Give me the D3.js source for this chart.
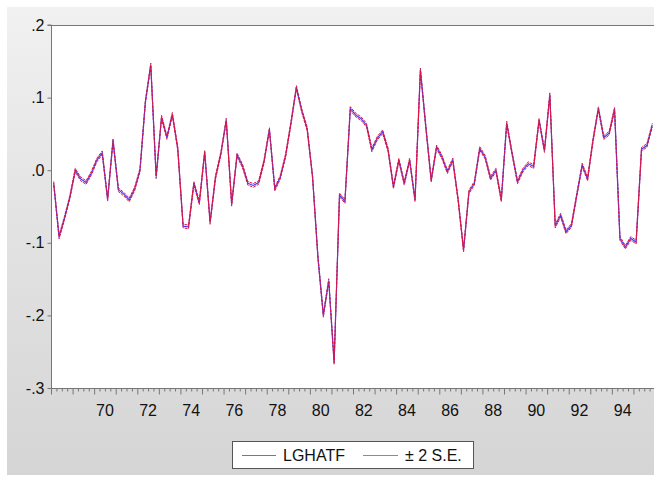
<!DOCTYPE html>
<html><head><meta charset="utf-8">
<script src="https://cdn.jsdelivr.net/npm/d3@7"></script>
<style>html,body{margin:0;padding:0;background:#fff;}svg{display:block;}</style>
</head><body>
<svg id="chart" width="654" height="477"></svg>
<script>
// ---- data ----
const startYear = 1968;           // first observation 1968Q1, quarterly
const endYear = 1996;
const lghatf = [
 -0.018,-0.092,-0.066,-0.037, 0.000,-0.012,-0.017,-0.004, 0.014, 0.024,
 -0.040, 0.041,-0.027,-0.033,-0.041,-0.026, 0.000, 0.094, 0.145,-0.009,
  0.073, 0.045, 0.077, 0.030,-0.077,-0.078,-0.018,-0.045, 0.025,-0.072,
 -0.010, 0.023, 0.069,-0.047, 0.021, 0.006,-0.018,-0.021,-0.017, 0.012,
  0.056,-0.026,-0.010, 0.020, 0.065, 0.114, 0.082, 0.057,-0.009,-0.120,
 -0.200,-0.152,-0.265,-0.034,-0.043, 0.085, 0.076, 0.071, 0.062, 0.028,
  0.044, 0.053, 0.028,-0.023, 0.014,-0.018, 0.014,-0.041, 0.138, 0.060,
 -0.014, 0.032, 0.018,-0.002, 0.014,-0.041,-0.110,-0.030,-0.018, 0.030,
  0.018,-0.011, 0.000,-0.041, 0.065, 0.023,-0.016, 0.000, 0.009, 0.005,
  0.069, 0.027, 0.104,-0.077,-0.062,-0.085,-0.076,-0.034, 0.007,-0.012,
  0.041, 0.085, 0.045, 0.051, 0.084,-0.094,-0.106,-0.094,-0.099, 0.029,
  0.034, 0.062
];
const twoSE = 0.0025;             // half-width of the ±2 S.E. band
const xTickYears = [1970,1972,1974,1976,1978,1980,1982,1984,1986,1988,1990,1992,1994];
const xTickLabels = ["70","72","74","76","78","80","82","84","86","88","90","92","94"];
const yTicks = [0.2,0.1,0.0,-0.1,-0.2,-0.3];
const yTickLabels = [".2",".1",".0","-.1","-.2","-.3"];
const legendLabels = ["LGHATF","\u00B1 2 S.E."];

// ---- layout ----
const svg = d3.select("#chart");
const W = 654, H = 477;
const L = 51, R = 655, T = 25, B = 388;
const font = "'Liberation Sans', Arial, sans-serif";

const defs = svg.append("defs");
const grad = defs.append("linearGradient").attr("id","bg").attr("x1",0).attr("y1",0).attr("x2",0).attr("y2",1);
grad.append("stop").attr("offset","0%").attr("stop-color","#f1f1f1");
grad.append("stop").attr("offset","45%").attr("stop-color","#e3e3e3");
grad.append("stop").attr("offset","100%").attr("stop-color","#d5d5d5");
svg.append("rect").attr("x",7).attr("y",7).attr("width",W-7).attr("height",468).attr("fill","url(#bg)");

svg.append("rect").attr("x",L).attr("y",T).attr("width",R-L).attr("height",B-T).attr("fill","#fff");

const x = d3.scaleLinear().domain([startYear,endYear]).range([L,R]);
const y = d3.scaleLinear().domain([-0.3,0.2]).range([B,T]);

// frame line on top
svg.append("line").attr("x1",L).attr("x2",W).attr("y1",T+0.5).attr("y2",T+0.5).attr("stroke","#777").attr("stroke-width",1.2);

// y axis
const yAxis = d3.axisLeft(y).tickValues(yTicks).tickFormat((d,i)=>yTickLabels[i]).tickSize(4).tickPadding(3);
const gy = svg.append("g").attr("transform",`translate(${L+0.5},0)`).call(yAxis);
gy.select(".domain").attr("stroke","#777").attr("d",`M-4,${T}H0V${B}`);
gy.selectAll(".tick line").attr("stroke","#777");
gy.selectAll("text").attr("font-family",font).attr("font-size",16).attr("fill","#111");

// x axis: quarterly minor ticks, yearly major ticks
const quarterTicks = d3.range(startYear*4, endYear*4+1).map(q=>q/4);
const gxMinor = svg.append("g").attr("transform",`translate(0,${B+0.5})`)
  .call(d3.axisBottom(x).tickValues(quarterTicks.filter(t=>t%1!==0)).tickSize(3).tickFormat(""));
gxMinor.selectAll(".tick line").attr("stroke","#777");
gxMinor.select(".domain").attr("stroke","#777").attr("d",`M${L},0H${W}`);
const gxMajor = svg.append("g").attr("transform",`translate(0,${B+0.5})`)
  .call(d3.axisBottom(x).tickValues(d3.range(startYear,endYear+1)).tickSize(6).tickFormat(""));
gxMajor.select(".domain").remove();
gxMajor.selectAll(".tick line").attr("stroke","#777");
svg.append("g").selectAll("text").data(xTickYears).join("text")
  .attr("x",d=>x(d+0.5)).attr("y",B+28).attr("text-anchor","middle")
  .attr("font-family",font).attr("font-size",16).attr("fill","#111")
  .text((d,i)=>xTickLabels[i]);

// lines
const pts = lghatf.map((v,i)=>({t:startYear+(i+0.5)/4, v}));
const line = d3.line().x(d=>x(d.t)).y(d=>y(d.v));
const g = svg.append("g");
g.append("path").datum(pts).attr("d",line).attr("fill","none").attr("stroke","#4040ff").attr("stroke-width",1.2);
g.append("path").datum(pts.map(d=>({t:d.t,v:d.v+twoSE}))).attr("d",line).attr("fill","none").attr("stroke","#e0163f").attr("stroke-width",1).attr("stroke-dasharray","3,1");
g.append("path").datum(pts.map(d=>({t:d.t,v:d.v-twoSE}))).attr("d",line).attr("fill","none").attr("stroke","#e0163f").attr("stroke-width",1).attr("stroke-dasharray","3,1");

// legend
const lg = svg.append("g");
lg.append("rect").attr("x",232.5).attr("y",441.5).attr("width",241).attr("height",27).attr("fill","#fff").attr("stroke","#555");
lg.append("line").attr("x1",242).attr("x2",276).attr("y1",455.5).attr("y2",455.5).attr("stroke","#6a6af0").attr("stroke-width",1.2);
lg.append("text").attr("x",283).attr("y",461).attr("font-family",font).attr("font-size",16).attr("fill","#111").text(legendLabels[0]);
lg.append("line").attr("x1",363).attr("x2",398).attr("y1",455.5).attr("y2",455.5).attr("stroke","#ec5c80").attr("stroke-width",1.2);
lg.append("text").attr("x",405).attr("y",461).attr("font-family",font).attr("font-size",16).attr("fill","#111").text(legendLabels[1]);
</script>
</body></html>
